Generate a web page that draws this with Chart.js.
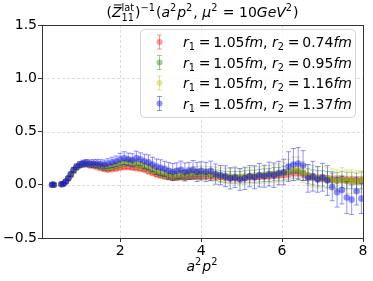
<!DOCTYPE html>
<html>
<head>
<meta charset="utf-8">
<script src="https://cdn.jsdelivr.net/npm/chart.js@4.4.0/dist/chart.umd.min.js"></script>
<style>
  html, body { margin: 0; padding: 0; background: #fff; }
  #wrap { width: 373px; height: 281px; }
</style>
</head>
<body>
<div id="wrap"><canvas id="chart" width="373" height="281"></canvas></div>
<script>
// --- data ---
const xVals = [0.32,0.36,0.55,0.6,0.66,0.72,0.78,0.85,0.92,1.0,
  1.08,1.16,1.25,1.34,1.43,1.52,1.61,1.7,
  1.8,1.9,2.0,2.1,2.2,2.3,2.4,2.5,2.6,2.7,2.8,2.9,3.0,3.1,3.2,3.3,3.4,3.5,3.6,3.7,3.8,3.9,4.0,
  4.12,4.24,4.36,4.48,4.6,4.72,4.84,4.96,5.08,5.2,5.32,5.44,5.56,5.68,5.8,5.92,6.04,6.16,6.28,6.4,6.52,6.64,6.76,6.88,7.0,7.12,7.24,7.36,7.48,7.6,7.72,7.84,7.96];

const redY = [0.0,0.0,0.005,0.01,0.03,0.06,0.09,0.13,0.16,0.18,
  0.19,0.19,0.18,0.175,0.165,0.155,0.145,0.14,
  0.145,0.15,0.16,0.165,0.165,0.16,0.155,0.15,0.14,0.125,0.11,0.095,0.085,0.075,0.07,0.065,0.065,0.07,0.07,0.075,0.08,0.08,0.08,
  0.08,0.08,0.075,0.07,0.065,0.06,0.06,0.06,0.065,0.07,0.07,0.075,0.08,0.08,0.085,0.09,0.095,0.10,0.11,0.11,0.10,0.08,0.07,0.06,0.06,0.055,0.05,0.05,0.05,0.045,0.045,0.04,0.04];
const redErr = [0.005,0.005,0.005,0.005,0.006,0.007,0.008,0.008,0.009,0.01,
  0.01,0.01,0.01,0.011,0.011,0.012,0.012,0.012,
  0.013,0.013,0.014,0.014,0.015,0.015,0.015,0.016,0.016,0.016,0.017,0.017,0.017,0.018,0.018,0.018,0.019,0.019,0.019,0.02,0.02,0.02,0.02,
  0.021,0.021,0.022,0.022,0.022,0.023,0.023,0.024,0.024,0.025,0.025,0.025,0.026,0.026,0.027,0.027,0.028,0.028,0.029,0.029,0.03,0.03,0.03,0.031,0.031,0.032,0.032,0.033,0.033,0.034,0.034,0.035,0.035];

const greenY = [0.0,0.0,0.005,0.01,0.03,0.06,0.09,0.13,0.16,0.18,
  0.19,0.195,0.19,0.185,0.18,0.17,0.16,0.16,
  0.17,0.18,0.19,0.20,0.205,0.20,0.19,0.185,0.17,0.16,0.14,0.12,0.11,0.10,0.09,0.085,0.085,0.09,0.09,0.095,0.10,0.10,0.10,
  0.10,0.095,0.09,0.08,0.075,0.07,0.07,0.07,0.075,0.08,0.08,0.085,0.09,0.09,0.10,0.10,0.11,0.12,0.13,0.13,0.11,0.08,0.07,0.06,0.06,0.05,0.05,0.04,0.05,0.04,0.04,0.03,0.04];
const greenErr = [0.008,0.008,0.009,0.01,0.011,0.012,0.013,0.014,0.015,0.016,
  0.017,0.018,0.019,0.02,0.021,0.022,0.023,0.024,
  0.025,0.026,0.027,0.028,0.029,0.03,0.031,0.032,0.033,0.034,0.035,0.036,0.037,0.038,0.039,0.04,0.041,0.042,0.043,0.044,0.045,0.046,0.047,
  0.048,0.049,0.05,0.051,0.052,0.053,0.054,0.055,0.056,0.057,0.058,0.059,0.06,0.061,0.062,0.063,0.064,0.066,0.068,0.07,0.07,0.07,0.07,0.072,0.072,0.074,0.074,0.076,0.076,0.078,0.078,0.08,0.08];

const yellowY = [0.0,0.0,0.005,0.01,0.03,0.06,0.095,0.135,0.165,0.185,
  0.195,0.2,0.195,0.19,0.185,0.175,0.17,0.17,
  0.18,0.19,0.2,0.21,0.215,0.21,0.2,0.195,0.18,0.17,0.15,0.13,0.12,0.11,0.1,0.095,0.095,0.1,0.1,0.105,0.11,0.11,0.11,
  0.11,0.105,0.1,0.09,0.085,0.08,0.08,0.075,0.08,0.085,0.09,0.09,0.095,0.1,0.105,0.11,0.12,0.14,0.15,0.15,0.12,0.09,0.08,0.07,0.07,0.06,0.05,0.04,0.05,0.03,0.03,0.03,0.03];
const yellowErr = [0.008,0.008,0.01,0.011,0.012,0.013,0.015,0.016,0.018,0.02,
  0.021,0.022,0.024,0.025,0.026,0.028,0.029,0.03,
  0.032,0.033,0.035,0.036,0.038,0.039,0.04,0.042,0.043,0.045,0.046,0.048,0.049,0.05,0.052,0.053,0.055,0.056,0.058,0.059,0.06,0.062,0.063,
  0.064,0.066,0.067,0.068,0.07,0.071,0.072,0.074,0.075,0.076,0.078,0.079,0.08,0.082,0.083,0.085,0.088,0.1,0.11,0.11,0.1,0.095,0.1,0.1,0.1,0.1,0.1,0.1,0.11,0.11,0.11,0.1,0.1];

const blueY = [0.0,0.0,0.005,0.01,0.03,0.06,0.10,0.14,0.17,0.19,
  0.20,0.205,0.20,0.20,0.20,0.195,0.19,0.20,
  0.21,0.22,0.24,0.25,0.24,0.23,0.25,0.24,0.22,0.21,0.19,0.17,0.16,0.15,0.13,0.12,0.13,0.14,0.12,0.13,0.14,0.12,0.13,
  0.12,0.13,0.10,0.09,0.08,0.06,0.07,0.05,0.06,0.08,0.07,0.09,0.08,0.10,0.09,0.11,0.12,0.17,0.19,0.20,0.18,0.06,0.08,0.05,0.07,0.04,-0.02,-0.07,-0.05,-0.12,-0.14,-0.06,-0.13];
const blueErr = [0.01,0.01,0.012,0.014,0.016,0.018,0.02,0.022,0.025,0.028,
  0.03,0.032,0.034,0.036,0.038,0.04,0.042,0.045,
  0.048,0.05,0.055,0.06,0.058,0.062,0.065,0.06,0.066,0.07,0.068,0.072,0.075,0.07,0.078,0.08,0.076,0.082,0.085,0.08,0.088,0.09,0.086,
  0.09,0.092,0.095,0.09,0.098,0.1,0.096,0.102,0.105,0.1,0.108,0.11,0.104,0.112,0.115,0.11,0.12,0.14,0.15,0.15,0.14,0.13,0.14,0.12,0.13,0.14,0.13,0.14,0.13,0.15,0.14,0.13,0.14];

const seriesNames = ["0.74", "0.95", "1.16", "1.37"];
const xTicks = [2, 4, 6, 8];
const yTicks = [-0.5, 0, 0.5, 1.0, 1.5];

const colors = ["rgba(255,0,0,0.4)", "rgba(0,128,0,0.4)", "rgba(191,191,0,0.4)", "rgba(0,0,255,0.42)"];
const allY = [redY, greenY, yellowY, blueY];
const allErr = [redErr, greenErr, yellowErr, blueErr];

const FONT = "'DejaVu Sans', sans-serif";
const THIN = "\u2009";

// draw text made of runs: {t, i, s} s: 1 sup, -1 sub; or {up, dn} stacked
function runWidth(ctx, r, size) {
  if (r.up !== undefined) {
    ctx.font = `${size * 0.7}px ${FONT}`;
    return Math.max(ctx.measureText(r.up).width, ctx.measureText(r.dn).width) + 1;
  }
  const sz = r.s ? size * 0.7 : size;
  ctx.font = `${r.i ? "italic " : ""}${sz}px ${FONT}`;
  return ctx.measureText(r.t).width + (r.s ? 1 : 0);
}
function drawRuns(ctx, runs, x, y, size, align) {
  let total = 0;
  runs.forEach(r => total += runWidth(ctx, r, size));
  let cx = align === "center" ? x - total / 2 : x;
  ctx.textAlign = "left";
  ctx.textBaseline = "alphabetic";
  ctx.fillStyle = "#000";
  runs.forEach(r => {
    const w = runWidth(ctx, r, size);
    if (r.up !== undefined) {
      ctx.font = `${size * 0.7}px ${FONT}`;
      ctx.fillText(r.up, cx, y - size * 0.45);
      ctx.fillText(r.dn, cx, y + size * 0.3);
    } else {
      const sz = r.s ? size * 0.7 : size;
      ctx.font = `${r.i ? "italic " : ""}${sz}px ${FONT}`;
      const dy = r.s === 1 ? -size * 0.4 : r.s === -1 ? size * 0.22 : 0;
      ctx.fillText(r.t, cx, y + dy);
      if (r.bar) {
        ctx.strokeStyle = "#000";
        ctx.lineWidth = 1;
        ctx.beginPath();
        ctx.moveTo(cx + 2, y - size * 0.86);
        ctx.lineTo(cx + w, y - size * 0.86);
        ctx.stroke();
      }
    }
    cx += w;
  });
}

const titleRuns = [
  {t: "("}, {t: "Z", i: true, bar: true}, {up: "lat", dn: "11"}, {t: ")"}, {t: "\u22121", s: 1},
  {t: "("}, {t: "a", i: true}, {t: "2", s: 1}, {t: "p", i: true}, {t: "2", s: 1}, {t: ", "},
  {t: "\u03bc", i: true}, {t: "2", s: 1}, {t: " = 10"}, {t: "GeV", i: true}, {t: "2", s: 1}, {t: ")"}
];
const xLabelRuns = [{t: "a", i: true}, {t: "2", s: 1}, {t: "p", i: true}, {t: "2", s: 1}];

function legendRuns(r2) {
  return [{t: "r", i: true}, {t: "1", s: -1}, {t: THIN + "=" + THIN + "1.05"}, {t: "fm", i: true}, {t: ", "},
    {t: "r", i: true}, {t: "2", s: -1}, {t: THIN + "=" + THIN + r2}, {t: "fm", i: true}];
}

function drawErrBar(ctx, x, yTop, yBot, color) {
  ctx.strokeStyle = color;
  ctx.lineWidth = 1;
  ctx.beginPath();
  ctx.moveTo(x, yTop); ctx.lineTo(x, yBot);
  ctx.moveTo(x - 2.5, yTop); ctx.lineTo(x + 2.5, yTop);
  ctx.moveTo(x - 2.5, yBot); ctx.lineTo(x + 2.5, yBot);
  ctx.stroke();
}

const framePlugin = {
  id: "frame",
  beforeDatasetsDraw(chart) {
    const {ctx, chartArea: a, scales: {x, y}} = chart;
    ctx.save();
    ctx.strokeStyle = "#d4d4d4";
    ctx.lineWidth = 0.8;
    ctx.setLineDash([3, 2]);
    xTicks.forEach(v => {
      const px = Math.round(x.getPixelForValue(v)) + 0.5;
      ctx.beginPath(); ctx.moveTo(px, a.top); ctx.lineTo(px, a.bottom); ctx.stroke();
    });
    yTicks.forEach(v => {
      const py = Math.round(y.getPixelForValue(v)) + 0.5;
      ctx.beginPath(); ctx.moveTo(a.left, py); ctx.lineTo(a.right, py); ctx.stroke();
    });
    ctx.restore();
  },
  beforeDatasetDraw(chart, args) {
    const {ctx, scales: {x, y}} = chart;
    const i = args.index;
    ctx.save();
    xVals.forEach((xv, k) => {
      const px = x.getPixelForValue(xv);
      drawErrBar(ctx, px, y.getPixelForValue(allY[i][k] + allErr[i][k]),
        y.getPixelForValue(allY[i][k] - allErr[i][k]), colors[i]);
    });
    ctx.restore();
  },
  afterDraw(chart) {
    const {ctx, chartArea: a} = chart;
    ctx.save();
    // spines
    ctx.strokeStyle = "#333";
    ctx.lineWidth = 1;
    ctx.strokeRect(Math.round(a.left) + 0.5, Math.round(a.top) + 0.5,
      Math.round(a.right - a.left), Math.round(a.bottom - a.top));
    // title and x label
    drawRuns(ctx, titleRuns, (a.left + a.right) / 2, 17, 14, "center");
    drawRuns(ctx, xLabelRuns, (a.left + a.right) / 2, 271, 14, "center");
    // legend
    const lx = 140, ly = 29, lw = 215, lh = 88;
    ctx.fillStyle = "rgba(255,255,255,0.8)";
    ctx.strokeStyle = "#d6d6d6";
    ctx.beginPath();
    ctx.roundRect(lx + 0.5, ly + 0.5, lw, lh, 4);
    ctx.fill(); ctx.stroke();
    seriesNames.forEach((name, i) => {
      const cy = 42 + i * 20.5;
      drawErrBar(ctx, 159.5, cy - 7, cy + 7, colors[i]);
      ctx.fillStyle = colors[i];
      ctx.beginPath(); ctx.arc(159.5, cy, 3, 0, Math.PI * 2); ctx.fill();
      drawRuns(ctx, legendRuns(name), 183, cy + 5, 14, "left");
    });
    ctx.restore();
  }
};

const datasets = seriesNames.map((name, i) => ({
  label: name,
  data: xVals.map((xv, k) => ({x: xv, y: allY[i][k]})),
  backgroundColor: colors[i],
  borderWidth: 0,
  pointRadius: 3.3,
  order: 4 - i
}));

new Chart(document.getElementById("chart"), {
  type: "scatter",
  data: {datasets},
  plugins: [framePlugin],
  options: {
    responsive: false,
    animation: false,
    devicePixelRatio: 1,
    layout: {padding: {top: 25, right: 10, left: 0, bottom: 0}},
    plugins: {legend: {display: false}, tooltip: {enabled: false}},
    scales: {
      x: {
        type: "linear", min: 0.07, max: 8,
        afterBuildTicks: s => { s.ticks = xTicks.map(v => ({value: v})); },
        afterFit: s => { s.height = 43; },
        ticks: {color: "#000", font: {family: FONT, size: 14}, padding: 1, maxRotation: 0, callback: v => String(v)},
        grid: {drawOnChartArea: false, drawTicks: true, tickLength: 4, tickColor: "#333"},
        border: {display: false}
      },
      y: {
        type: "linear", min: -0.5, max: 1.5,
        afterBuildTicks: s => { s.ticks = yTicks.map(v => ({value: v})); },
        afterFit: s => { s.width = 42; },
        ticks: {color: "#000", font: {family: FONT, size: 14}, padding: 1,
          callback: v => Number(v).toFixed(1).replace("-", "\u2212")},
        grid: {drawOnChartArea: false, drawTicks: true, tickLength: 4, tickColor: "#333"},
        border: {display: false}
      }
    }
  }
});
</script>
</body>
</html>
